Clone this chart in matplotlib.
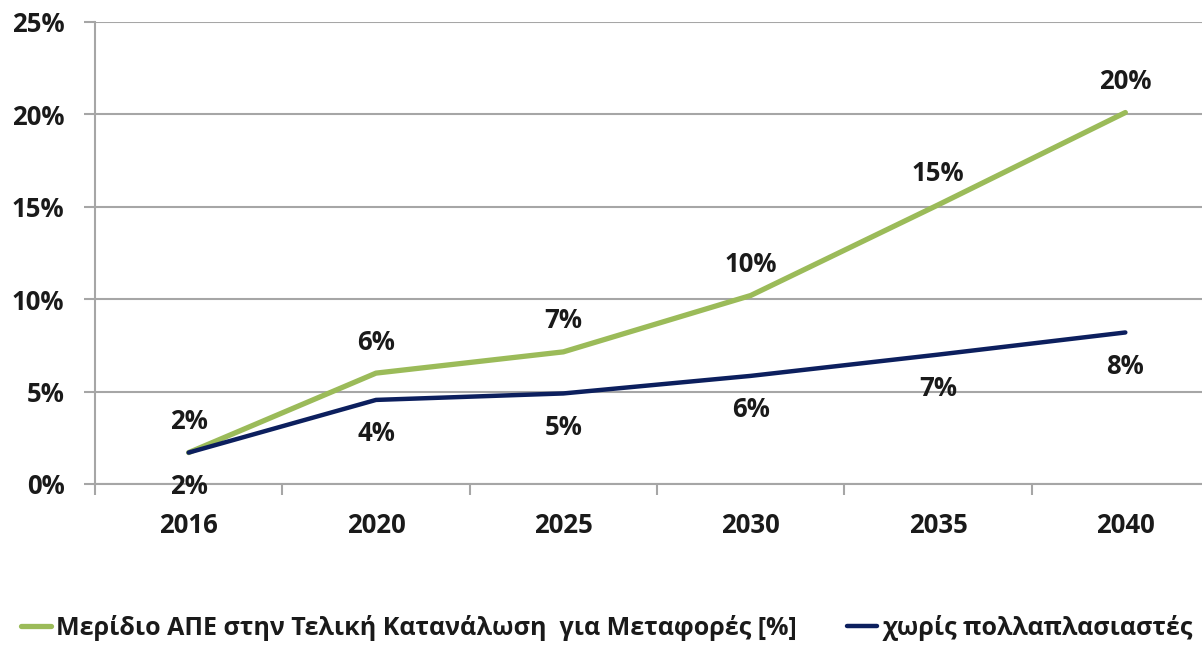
import matplotlib.pyplot as plt
from matplotlib.ticker import PercentFormatter, FixedLocator

plt.rcParams['font.family'] = ['Open Sans', 'DejaVu Sans']
plt.rcParams['font.weight'] = 'bold'

years = ['2016', '2020', '2025', '2030', '2035', '2040']
share_res = [1.7, 6.0, 7.15, 10.2, 15.1, 20.1]
no_multipliers = [1.7, 4.55, 4.9, 5.85, 7.0, 8.2]
labels_res = ['2%', '6%', '7%', '10%', '15%', '20%']
labels_no_mult = ['2%', '4%', '5%', '6%', '7%', '8%']
series_names = ['Μερίδιο ΑΠΕ στην Τελική Κατανάλωση  για Μεταφορές [%]',
                'χωρίς πολλαπλασιαστές']

green = '#9bbb59'
navy = '#0c1f5e'
text_col = '#1a1a1a'
grid_col = '#a6a6a6'
fs = 18.5

fig = plt.figure(figsize=(12.02, 6.45), dpi=100)
ax = fig.add_axes([95 / 1202, 1 - 484 / 645, 1124 / 1202, 462 / 645])

x = list(range(len(years)))
l1, = ax.plot(x, share_res, color=green, lw=3.8, solid_capstyle='round', zorder=3)
l2, = ax.plot(x, no_multipliers, color=navy, lw=3.2, solid_capstyle='round', zorder=3)

for xi, v, t in zip(x, share_res, labels_res):
    ax.annotate(t, (xi, v), xytext=(0, 31), textcoords='offset pixels',
                ha='center', va='center', fontsize=fs, fontweight='bold', color=text_col)
for xi, v, t in zip(x, no_multipliers, labels_no_mult):
    ax.annotate(t, (xi, v), xytext=(0, -34), textcoords='offset pixels',
                ha='center', va='center', fontsize=fs, fontweight='bold', color=text_col)

ax.set_xlim(-0.5, 5.5)
ax.set_ylim(0, 25)
ax.yaxis.set_major_locator(FixedLocator([0, 5, 10, 15, 20, 25]))
ax.yaxis.set_major_formatter(PercentFormatter(decimals=0))
ax.yaxis.grid(True, color=grid_col, lw=1.5)
ax.set_axisbelow(True)

ax.set_xticks(x)
ax.set_xticklabels(years)
ax.set_xticks([i - 0.5 for i in range(len(years) + 1)], minor=True)
ax.tick_params(axis='x', which='major', length=0, pad=20, labelsize=fs, labelcolor=text_col)
ax.tick_params(axis='x', which='minor', length=8, width=1.5, color=grid_col)
ax.tick_params(axis='y', length=8, width=1.5, color=grid_col, pad=14,
               labelsize=fs, labelcolor=text_col)
for lbl in ax.get_xticklabels() + ax.get_yticklabels():
    lbl.set_fontweight('bold')

for side in ['top', 'right']:
    ax.spines[side].set_visible(False)
for side in ['left', 'bottom']:
    ax.spines[side].set_color(grid_col)
    ax.spines[side].set_linewidth(1.5)

fig.legend([l1, l2], series_names, loc='center', bbox_to_anchor=(0.505, 1 - 628 / 645),
           ncol=2, frameon=False, handlelength=1.2, handletextpad=0.2, columnspacing=2.0,
           prop={'size': 18, 'weight': 'bold'}, labelcolor=text_col)

fig.savefig('out.png', dpi=100)
